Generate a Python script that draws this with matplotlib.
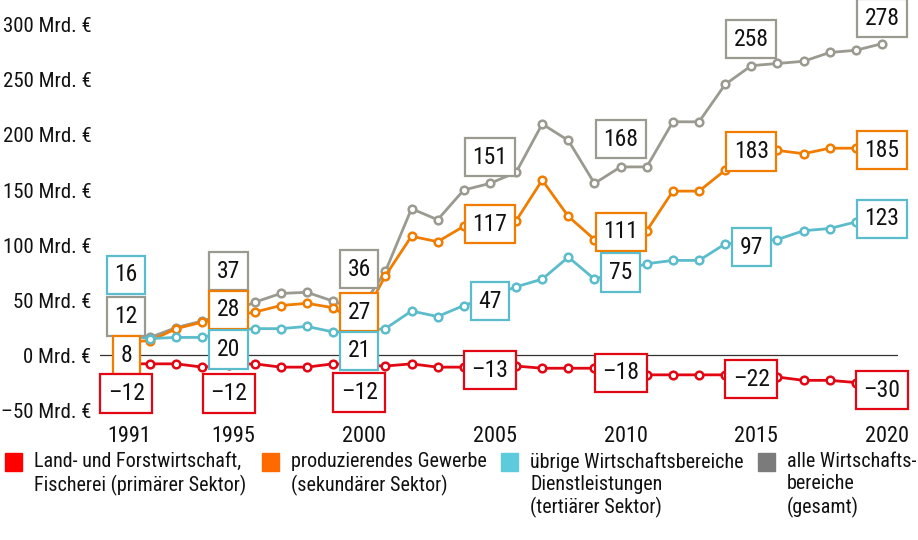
import matplotlib
matplotlib.use("Agg")
import matplotlib.pyplot as plt
from matplotlib.patches import Rectangle
from matplotlib.transforms import ScaledTranslation

plt.rcParams['font.family'] = ['Roboto Condensed', 'DejaVu Sans']

years = list(range(1991, 2021))

# values (Mrd. €), points under the boxes estimated
primaer = [-8, -8, -8, -11, -9, -8, -11, -11, -8, -9,
           -10, -8, -11, -11, -10, -10, -12, -12, -12, -16,
           -18, -18, -18, -18, -19, -20, -23, -23, -25, -28]
sekundaer = [12, 13, 24, 30, 35, 39, 45, 47, 43, 28,
             72, 108, 103, 117, 120, 122, 159, 126, 105, 110,
             113, 149, 149, 168, 183, 186, 183, 188, 188, 188]
tertiaer = [18, 15, 16, 16, 22, 24, 24, 26, 21, 22,
            24, 40, 35, 45, 53, 62, 69, 89, 69, 76,
            83, 86, 86, 101, 103, 105, 113, 115, 121, 124]
gesamt = [18, 16, 25, 31, 38, 48, 56, 57, 49, 40,
          76, 133, 123, 150, 156, 166, 210, 195, 156, 171,
          171, 212, 212, 246, 263, 265, 267, 275, 277, 283]

# boxed value labels
label_years = [1991, 1995, 2000, 2005, 2010, 2015, 2020]
lab_primaer = ['–12', '–12', '–12', '–13', '–18', '–22', '–30']
lab_sekundaer = ['8', '28', '27', '117', '111', '183', '185']
lab_tertiaer = ['16', '20', '21', '47', '75', '97', '123']
lab_gesamt = ['12', '37', '36', '151', '168', '258', '278']

tick_years = [1991, 1995, 2000, 2005, 2010, 2015, 2020]
y_ticks = [-50, 0, 50, 100, 150, 200, 250, 300]

legend_texts = ['Land- und Forstwirtschaft,\nFischerei (primärer Sektor)',
                'produzierendes Gewerbe\n(sekundärer Sektor)',
                'übrige Wirtschaftsbereiche\nDienstleistungen\n(tertiärer Sektor)',
                'alle Wirtschafts-\nbereiche\n(gesamt)']

# layout / style
c_red = '#e30613'; c_orange = '#f07d00'; c_teal = '#5bbccb'; c_gray = '#9a9a91'
leg_colors = ['#ff0000', '#ff6a00', '#5ecbdc', '#7b7b7b']
pos_primaer = [-35, -35, -34, -14, -16, -22, -32]
pos_sekundaer = [0, 41, 39, 119, 112, 185, 186]
pos_tertiaer = [73, 5, 4, 49, 75, 98, 124]
pos_gesamt = [35, 76, 78, 180, 196, 287, 306]

W, H = 918, 540
fig = plt.figure(figsize=(W/100, H/100), dpi=100)
ax = fig.add_axes([100/W, 1 - 415/H, 798/W, 415/H])
ax.set_xlim(1991 - 24/26.15, 2020 + 16/26.15)
ax.set_ylim(-54.5, 322.7)

ax.axhline(0, color='#333333', lw=0.9, zorder=1)

series = [(gesamt, c_gray), (sekundaer, c_orange), (tertiaer, c_teal), (primaer, c_red)]
for vals, col in series:
    ax.plot(years, vals, color=col, lw=2.0, marker='o', ms=5.5,
            mfc='white', mec=col, mew=1.8, zorder=3)

labels = [(lab_gesamt, pos_gesamt, c_gray), (lab_sekundaer, pos_sekundaer, c_orange),
          (lab_tertiaer, pos_tertiaer, c_teal), (lab_primaer, pos_primaer, c_red)]
for texts, pos, col in labels:
    for yr, t, p in zip(label_years, texts, pos):
        x = yr + 0.08 if yr == 1991 else yr
        ax.text(x, p, t, ha='center', va='center', fontsize=17, color='#111111',
                zorder=5, clip_on=False,
                bbox=dict(boxstyle='square,pad=0.32', fc='white', ec=col, lw=1.6))

ax.set_xticks(tick_years)
ax.set_xticklabels([str(y) for y in tick_years], fontsize=16, color='#111111')
ax.set_yticks(y_ticks)
ax.set_yticklabels([('–50' if v < 0 else str(v)) + ' Mrd. €' for v in y_ticks],
                   fontsize=15, color='#111111')
ax.tick_params(length=0, pad=6)
ax.tick_params(axis='x', pad=8)
shift = ScaledTranslation(5/100, 0, fig.dpi_scale_trans)
for lab in ax.get_xticklabels():
    lab.set_transform(lab.get_transform() + shift)
for s in ax.spines.values():
    s.set_visible(False)

# legend
leg_x = [5, 262, 501, 758]
for lx, col, txt in zip(leg_x, leg_colors, legend_texts):
    fig.patches.append(Rectangle((lx/W, 1 - 471/H), 17/W, 18/H,
                                 transform=fig.transFigure, color=col))
    fig.text((lx + 29)/W, 1 - 452/H, txt, ha='left', va='top', fontsize=14.5,
             color='#111111', linespacing=1.22)

fig.savefig('out.png', dpi=100)
